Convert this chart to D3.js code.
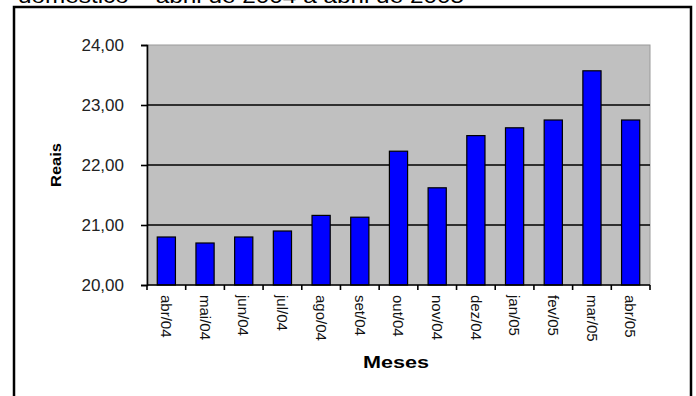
<!DOCTYPE html>
<html>
<head>
<meta charset="utf-8">
<script src="https://cdn.jsdelivr.net/npm/d3@7"></script>
<style>
  html, body { margin: 0; padding: 0; background: #fff; }
  svg { display: block; font-family: Arial, "Liberation Sans", sans-serif; }
</style>
</head>
<body>
<svg id="chart" width="696" height="396"></svg>
<script>
// Monthly average price, April 2004 to April 2005 (R$)
const months = ["abr/04", "mai/04", "jun/04", "jul/04", "ago/04", "set/04", "out/04",
                "nov/04", "dez/04", "jan/05", "fev/05", "mar/05", "abr/05"];
const values = [20.80, 20.70, 20.80, 20.90, 21.16, 21.13, 22.23,
                21.62, 22.49, 22.62, 22.75, 23.57, 22.75];
const yTicks = [20, 21, 22, 23, 24];
const titleText = "doméstico – abril de 2004 a abril de 2005";
const yTitle = "Reais";
const xTitle = "Meses";

const svg = d3.select("#chart");
const plot = { left: 147, right: 650, top: 45, bottom: 285 };

const ptBR = d3.formatLocale({ decimal: ",", thousands: ".", grouping: [3], currency: ["R$", ""] });
const fmt = ptBR.format(".2f");

const x = d3.scaleBand()
  .domain(months)
  .range([plot.left, plot.right])
  .paddingInner(0.53)
  .paddingOuter(0.265);

const y = d3.scaleLinear()
  .domain([20, 24])
  .range([plot.bottom, plot.top]);

// Title line (partly above the frame)
svg.append("text")
  .attr("x", 18).attr("y", 3)
  .attr("font-size", 20)
  .attr("textLength", 446)
  .attr("lengthAdjust", "spacingAndGlyphs")
  .attr("fill", "#000")
  .text(titleText);

// Outer frame
svg.append("rect")
  .attr("x", 14).attr("y", 7)
  .attr("width", 677).attr("height", 420)
  .attr("fill", "none")
  .attr("stroke", "#000")
  .attr("stroke-width", 2.5);

// Plot area background
svg.append("rect")
  .attr("x", plot.left).attr("y", plot.top)
  .attr("width", plot.right - plot.left)
  .attr("height", plot.bottom - plot.top)
  .attr("fill", "#c0c0c0")
  .attr("stroke", "#9a9a9a")
  .attr("stroke-width", 1);

// Horizontal gridlines
svg.append("g")
  .selectAll("line")
  .data(yTicks.filter(t => t > 20 && t < 24))
  .join("line")
  .attr("x1", plot.left).attr("x2", plot.right)
  .attr("y1", d => y(d)).attr("y2", d => y(d))
  .attr("stroke", "#000")
  .attr("stroke-width", 1.6);

// Bars
svg.append("g")
  .selectAll("rect")
  .data(values)
  .join("rect")
  .attr("x", (d, i) => x(months[i]))
  .attr("y", d => y(d))
  .attr("width", x.bandwidth())
  .attr("height", d => y(20) - y(d))
  .attr("fill", "#0000ff")
  .attr("stroke", "#000")
  .attr("stroke-width", 1.2);

// Y axis
const yAxis = svg.append("g")
  .attr("transform", `translate(${plot.left},0)`)
  .call(d3.axisLeft(y).tickValues(yTicks).tickFormat(fmt).tickSize(6).tickPadding(17));
yAxis.select(".domain").attr("stroke", "#000").attr("stroke-width", 1.6);
yAxis.selectAll(".tick line").attr("stroke", "#000").attr("stroke-width", 1.6);
yAxis.selectAll(".tick text")
  .attr("font-size", 17)
  .attr("font-family", "Arial, 'Liberation Sans', sans-serif")
  .attr("fill", "#222");

// X axis: ticks at category boundaries
const step = x.step();
const boundaries = d3.range(months.length + 1).map(i => plot.left + i * step);
svg.append("line")
  .attr("x1", plot.left).attr("x2", plot.right)
  .attr("y1", plot.bottom).attr("y2", plot.bottom)
  .attr("stroke", "#000").attr("stroke-width", 1.6);
svg.append("g")
  .selectAll("line")
  .data(boundaries)
  .join("line")
  .attr("x1", d => d).attr("x2", d => d)
  .attr("y1", plot.bottom).attr("y2", plot.bottom + 5)
  .attr("stroke", "#000").attr("stroke-width", 1.6);

// Category labels, rotated to read downward
svg.append("g")
  .selectAll("text")
  .data(months)
  .join("text")
  .attr("transform", d => `translate(${x(d) + x.bandwidth() / 2},${plot.bottom + 10}) rotate(90)`)
  .attr("dy", "0.35em")
  .attr("text-anchor", "start")
  .attr("font-size", 15)
  .attr("fill", "#111")
  .text(d => d);

// Axis titles
svg.append("text")
  .attr("transform", `translate(61,165) rotate(-90)`)
  .attr("text-anchor", "middle")
  .attr("font-size", 15)
  .attr("font-weight", "bold")
  .attr("textLength", 44)
  .attr("lengthAdjust", "spacingAndGlyphs")
  .text(yTitle);

svg.append("text")
  .attr("x", 396).attr("y", 368)
  .attr("text-anchor", "middle")
  .attr("font-size", 16)
  .attr("font-weight", "bold")
  .attr("textLength", 66)
  .attr("lengthAdjust", "spacingAndGlyphs")
  .text(xTitle);
</script>
</body>
</html>
